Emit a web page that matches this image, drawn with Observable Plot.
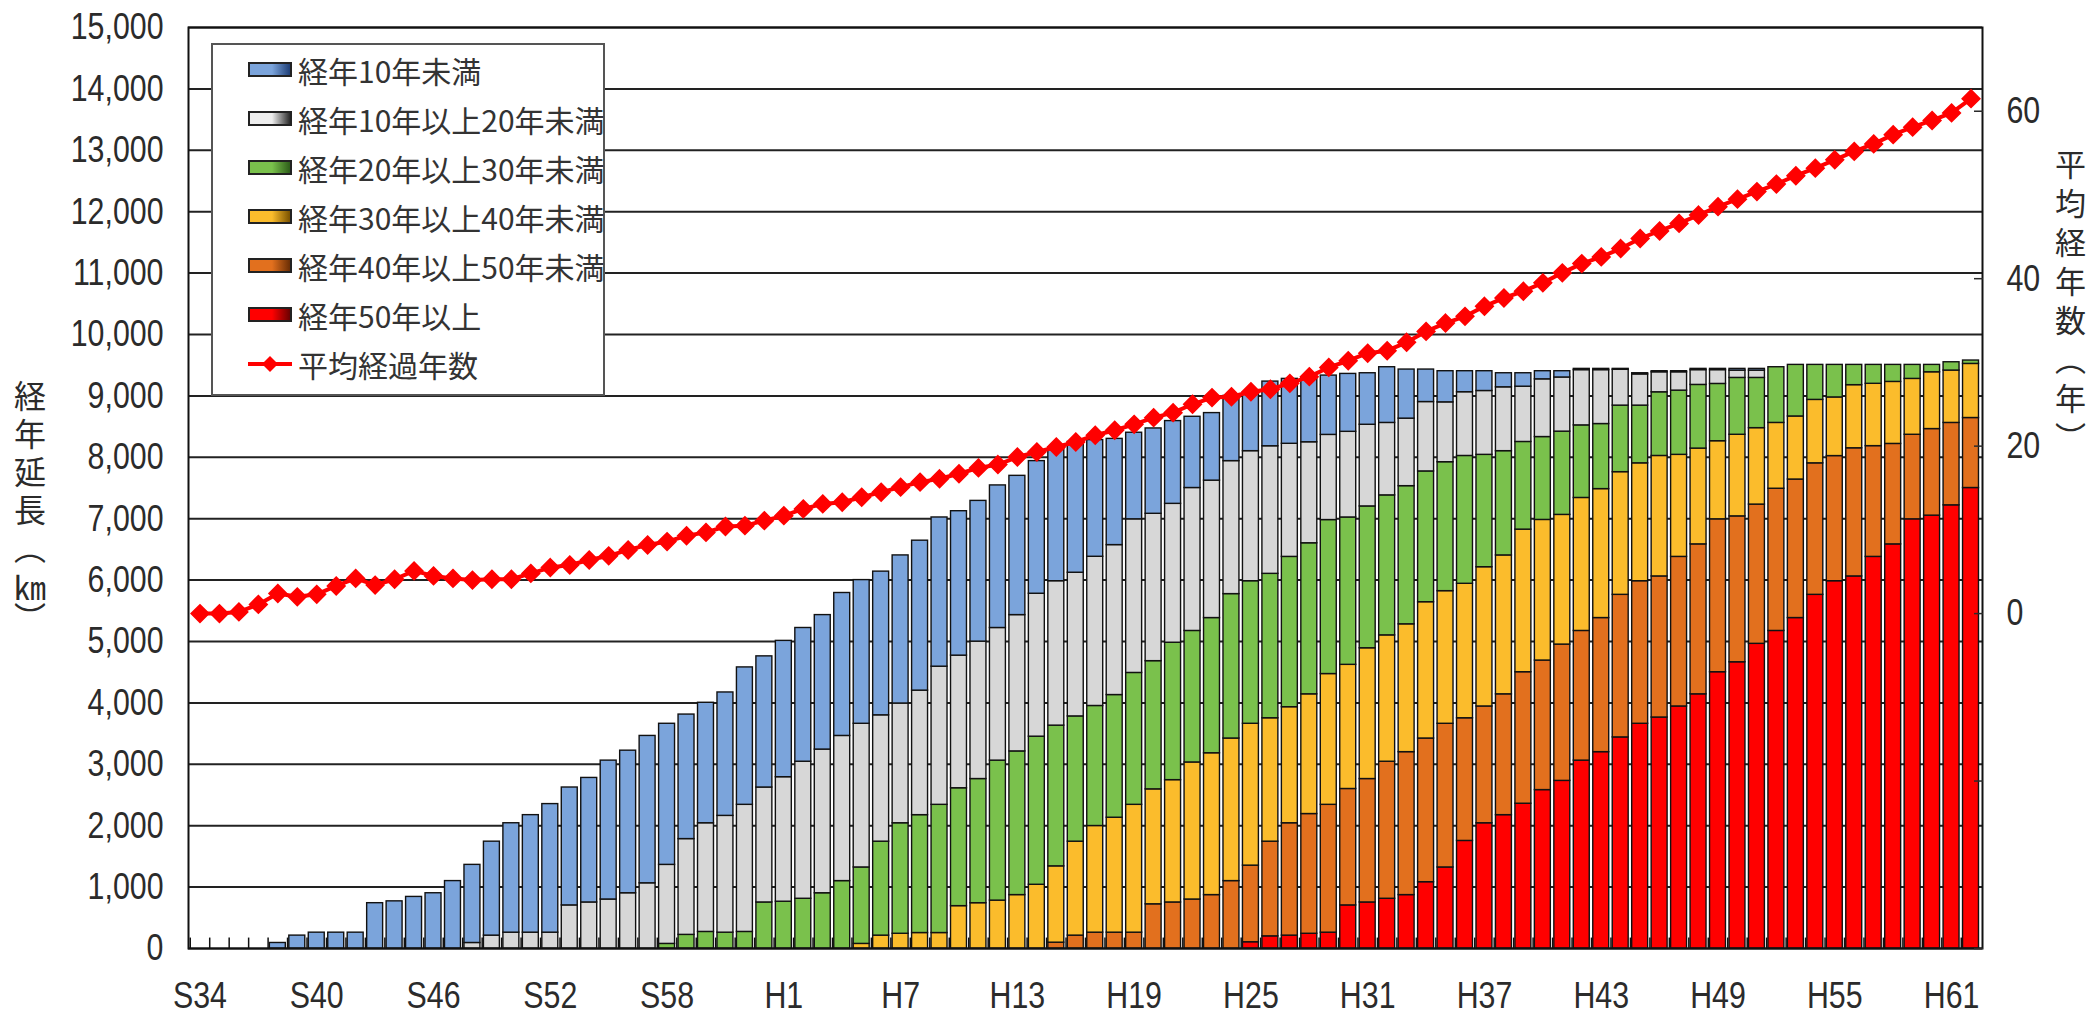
<!DOCTYPE html>
<html><head><meta charset="utf-8">
<script src="https://cdn.jsdelivr.net/npm/d3@7"></script>
<script src="https://cdn.jsdelivr.net/npm/@observablehq/plot@0.6"></script>
<style>
html,body{margin:0;padding:0;background:#fff;}
#wrap{position:relative;width:2096px;height:1017px;overflow:hidden;}
#legend{position:absolute;left:211px;top:43px;width:394px;height:353px;border:2px solid #555;background:#fff;box-sizing:border-box;font-family:"Noto Sans CJK JP",sans-serif;font-size:30px;color:#333;}
.row{position:absolute;left:0;height:49px;display:flex;align-items:center;}
.sw{margin-left:35px;width:44px;height:15px;border:2px solid #222;box-sizing:border-box;flex:none;}
.lab{margin-left:6px;white-space:nowrap;line-height:1;}
.vtitle{position:absolute;writing-mode:vertical-rl;text-orientation:mixed;font-family:"Noto Sans CJK JP",sans-serif;color:#2b2b2b;white-space:nowrap;}
.tcy{text-combine-upright:all;}
</style></head><body><div id="wrap"></div>
<script>
const years = ["S34","S35","S36","S37","S38","S39","S40","S41","S42","S43","S44","S45","S46","S47","S48","S49","S50","S51","S52","S53","S54","S55","S56","S57","S58","S59","S60","S61","S62","S63",
"H1","H2","H3","H4","H5","H6","H7","H8","H9","H10","H11","H12","H13","H14","H15","H16","H17","H18","H19","H20","H21","H22","H23","H24","H25","H26","H27","H28","H29","H30","H31","H32","H33","H34","H35","H36","H37","H38","H39","H40","H41","H42","H43","H44","H45","H46","H47","H48","H49","H50","H51","H52","H53","H54","H55","H56","H57","H58","H59","H60","H61","H62"];
const xTickLabels = ["S34","S40","S46","S52","S58","H1","H7","H13","H19","H25","H31","H37","H43","H49","H55","H61"];
const yTicks = [0,1000,2000,3000,4000,5000,6000,7000,8000,9000,10000,11000,12000,13000,14000,15000];
const ageTicks = [-40,-20,0,20,40,60];
const ageTickLabels = [0,20,40,60];

// 経年10年未満
const ageUnder10 = [0,0,0,0,90,210,258,258,258,738,
768,840,900,1098,1272,1530,1782,1914,2094,1920,
2028,2262,2322,2400,2298,2028,1962,2010,2238,2136,
2220,2178,2190,2328,2340,2340,2412,2442,2430,2352,
2292,2322,2268,2160,2178,2130,1900,1730,1410,1390,
1348,1160,1100,1062,960,1053,1057,1055,966,943,
839,907,799,529,507,342,322,229,219,132,
102,20,20,15,19,17,17,20,20,28,
28,0,0,0,0,0,0,0,0,0,0,0];
// 経年10年以上20年未満
const age10to20 = [0,0,0,0,0,0,0,0,0,0,
0,0,0,0,90,210,258,258,258,702,
750,798,900,1062,1287,1560,1770,1902,2070,1872,
2028,2232,2340,2364,2340,2058,1950,2028,2250,2160,
2238,2160,2220,2328,2352,2340,2430,2442,2502,2400,
2262,2328,2238,2166,2118,2078,1842,1645,1387,1395,
1330,1180,1100,1130,975,1038,1040,1040,900,940,
882,900,878,583,508,326,299,241,225,119,
119,0,0,0,0,0,0,0,0,0,0,0];
// 経年20年以上30年未満
const age20to30 = [0,0,0,0,0,0,0,0,0,0,
0,0,0,0,0,0,0,0,0,0,
0,0,0,0,75,222,270,258,270,750,
762,810,900,1098,1245,1530,1800,1920,2088,1920,
2022,2280,2340,2412,2292,2040,1955,1998,2148,2088,
2238,2142,2202,2352,2322,2352,2448,2460,2508,2400,
2310,2280,2250,2130,2100,2082,1830,1698,1428,1350,
1356,1182,1060,1084,940,1037,1046,1037,933,926,
818,907,840,570,530,330,308,277,228,120,135,55];
// 経年30年以上40年未満
const age30to40 = [0,0,0,0,0,0,0,0,0,0,
0,0,0,0,0,0,0,0,0,0,
0,0,0,0,0,0,0,0,0,0,
0,0,0,0,75,210,240,252,252,690,
738,780,870,1038,1243,1530,1737,1872,2082,1872,
1992,2232,2310,2322,2310,2010,1890,1950,2130,2022,
2130,2058,2082,2220,2160,2190,2268,2262,2322,2290,
2112,2166,2100,1998,1920,1962,1662,1560,1272,1329,
1245,1072,1027,1033,955,1028,1015,1010,910,925,853,881];
// 経年40年以上50年未満
const age40to50 = [0,0,0,0,0,0,0,0,0,0,
0,0,0,0,0,0,0,0,0,0,
0,0,0,0,0,0,0,0,0,0,
0,0,0,0,0,0,0,0,0,0,
0,0,0,0,95,210,258,258,258,720,
750,798,870,1098,1248,1542,1830,1950,2082,1896,
2010,2232,2328,2340,2340,1998,1902,1968,2142,2110,
2220,2112,2184,2322,2322,2298,2436,2442,2490,2376,
2268,2316,2256,2142,2038,2087,1804,1636,1377,1410,1342,1140];
// 経年50年以上
const age50plus = [0,0,0,0,0,0,0,0,0,0,
0,0,0,0,0,0,0,0,0,0,
0,0,0,0,0,0,0,0,0,0,
0,0,0,0,0,0,0,0,0,0,
0,0,0,0,0,0,0,0,0,0,
0,0,0,0,102,198,210,240,258,702,
750,810,870,1080,1320,1752,2040,2172,2358,2580,
2730,3060,3198,3438,3660,3762,3942,4140,4500,4662,
4962,5172,5382,5760,5982,6060,6378,6582,6990,7050,7218,7500];
// 平均経過年数
const avgAge = [0,0,0.2,1.1,2.4,2.0,2.3,3.3,4.2,3.4,
4.1,5.1,4.5,4.2,4.0,4.1,4.1,4.8,5.5,5.8,
6.4,6.9,7.6,8.2,8.6,9.3,9.7,10.4,10.5,11.1,
11.7,12.5,13.1,13.3,13.9,14.5,15.1,15.7,16.1,16.7,
17.4,17.8,18.7,19.3,19.9,20.5,21.3,21.9,22.6,23.4,
24.0,25.0,25.8,25.9,26.5,26.8,27.5,28.3,29.4,30.2,
31.1,31.4,32.4,33.7,34.7,35.5,36.7,37.7,38.5,39.5,
40.7,41.8,42.6,43.6,44.8,45.7,46.6,47.6,48.6,49.5,
50.4,51.3,52.3,53.2,54.2,55.2,56.1,57.2,58.1,58.9,59.8,61.5];

const seriesNames = ["経年50年以上","経年40年以上50年未満","経年30年以上40年未満","経年20年以上30年未満","経年10年以上20年未満","経年10年未満"];
const seriesColors = ["#FF0000","#E2701E","#FBBC2C","#7AC14C","#D7D7D7","#7BA4DB"];
const seriesValues = [age50plus, age40to50, age30to40, age20to30, age10to20, ageUnder10];
const legendNames = ["経年10年未満","経年10年以上20年未満","経年20年以上30年未満","経年30年以上40年未満","経年40年以上50年未満","経年50年以上"];
const legendColors = [["#7BA4DB","#1F3F77"],["#EEEEEE","#2A2A2A"],["#7AC14C","#2E5E1A"],["#FBBC2C","#7A5200"],["#E2701E","#6A2E05"],["#FF0000","#6A0000"]];
const lineName = "平均経過年数";

const rows = [];
seriesNames.forEach((s, k) => years.forEach((y, i) => {
  const v = seriesValues[k][i];
  if (v > 0) rows.push({year: y, series: s, value: v});
}));
const ageRows = years.map((y, i) => ({year: y, age: avgAge[i]}));

const yMax = 15000, ageMin = -40, ageMax = 70;
const ageY = v => (v - ageMin) / (ageMax - ageMin) * yMax;
const W = 2096, H = 1017, ML = 188, MR = 114, MT = 27, MB = 69, PAD = 0.18;
const step = (W - ML - MR) / (years.length + PAD);

const chart = Plot.plot({
  width: W, height: H,
  marginLeft: ML, marginRight: MR, marginTop: MT, marginBottom: MB,
  style: {fontFamily: "'Liberation Sans',Arial,sans-serif", fontSize: "37px", color: "#2b2b2b", background: "#fff", overflow: "visible"},
  x: {domain: years, padding: PAD, label: null},
  y: {domain: [0, yMax], label: null},
  color: {domain: seriesNames, range: seriesColors},
  marks: [
    Plot.gridY(yTicks, {stroke: "#222", strokeOpacity: 1, strokeWidth: 2}),
    Plot.barY(rows, {x: "year", y: "value", fill: "series", order: seriesNames, stroke: "#111", strokeWidth: 1.4}),
    Plot.ruleX(years, {x: d => d, y1: 0, y2: 170, dx: -step / 2, stroke: "#111", strokeWidth: 1.5}),
    Plot.frame({stroke: "#111", strokeWidth: 2}),
    Plot.axisY(yTicks, {tickSize: 0, tickPadding: 25, tickFormat: d3.format(","), label: null}),
    Plot.axisX(xTickLabels, {tickSize: 0, tickPadding: 33, label: null}),
    Plot.axisY(ageTicks.map(ageY), {anchor: "right", tickSize: 9, dx: -9, tickFormat: () => "", label: null, strokeWidth: 1.5}),
    Plot.axisY(ageTickLabels.map(ageY), {anchor: "right", tickSize: 0, tickPadding: 24, label: null,
      tickFormat: p => String(Math.round(p / yMax * (ageMax - ageMin) + ageMin))}),
    Plot.line(ageRows, {x: "year", y: d => ageY(d.age), stroke: "#FF0000", strokeWidth: 4}),
    Plot.dot(ageRows, {x: "year", y: d => ageY(d.age), symbol: "diamond2", r: 8, fill: "#FF0000", stroke: "#FF0000", strokeWidth: 1.5})
  ]
});
// narrow the tick-label glyphs horizontally, like the reference's condensed face
chart.querySelectorAll('g[aria-label$="tick label"] text').forEach(t => {
  const xa = t.getAttribute("x");
  let shift = "";
  if (xa != null && isFinite(+xa) && +xa !== 0) { shift = `translate(${+xa},0)`; t.removeAttribute("x"); }
  const tr = t.getAttribute("transform") || "";
  t.setAttribute("transform", `${tr} ${shift} scale(0.82,1)`);
});
const wrap = document.getElementById("wrap");
wrap.appendChild(chart);

// vertical axis titles
const leftTitle = document.createElement("div");
leftTitle.className = "vtitle";
Object.assign(leftTitle.style, {left: "14px", top: "380px", letterSpacing: "6px", fontSize: "32px", lineHeight: "32px", width: "32px"});
leftTitle.innerHTML = '経年延長（<span class="tcy">km</span>）';
wrap.appendChild(leftTitle);
const rightTitle = document.createElement("div");
rightTitle.className = "vtitle";
Object.assign(rightTitle.style, {left: "2055px", top: "149px", letterSpacing: "8px", fontSize: "31px", lineHeight: "31px", width: "31px"});
rightTitle.textContent = "平均経年数（年）";
wrap.appendChild(rightTitle);

const legend = document.createElement("div");
legend.id = "legend";
legendNames.forEach((name, k) => {
  const row = document.createElement("div");
  row.className = "row";
  row.style.top = (k * 49) + "px";
  const sw = document.createElement("div");
  sw.className = "sw";
  sw.style.background = `linear-gradient(to right, ${legendColors[k][0]} 0%, ${legendColors[k][0]} 55%, ${legendColors[k][1]} 100%)`;
  const lab = document.createElement("span");
  lab.className = "lab";
  lab.textContent = name;
  row.appendChild(sw); row.appendChild(lab);
  legend.appendChild(row);
});
{
  const row = document.createElement("div");
  row.className = "row";
  row.style.top = (6 * 49) + "px";
  const svgNS = "http://www.w3.org/2000/svg";
  const s = document.createElementNS(svgNS, "svg");
  s.setAttribute("width", "44"); s.setAttribute("height", "20");
  s.style.marginLeft = "35px"; s.style.flex = "none";
  const l = document.createElementNS(svgNS, "line");
  l.setAttribute("x1", "0"); l.setAttribute("x2", "44"); l.setAttribute("y1", "10"); l.setAttribute("y2", "10");
  l.setAttribute("stroke", "#FF0000"); l.setAttribute("stroke-width", "4");
  const p = document.createElementNS(svgNS, "path");
  p.setAttribute("d", "M22,2L30,10L22,18L14,10Z"); p.setAttribute("fill", "#FF0000");
  s.appendChild(l); s.appendChild(p);
  const lab = document.createElement("span");
  lab.className = "lab"; lab.textContent = lineName;
  row.appendChild(s); row.appendChild(lab);
  legend.appendChild(row);
}
wrap.appendChild(legend);
</script></body></html>
